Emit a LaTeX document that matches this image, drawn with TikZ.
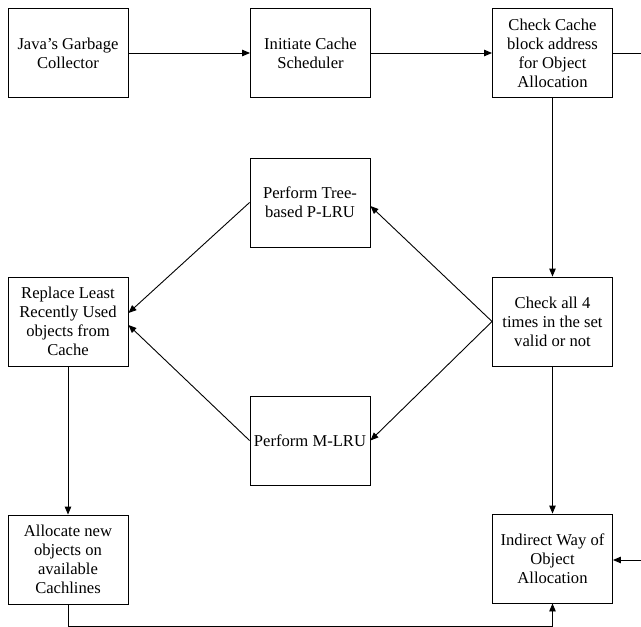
\documentclass[tikz,border=0pt]{standalone}
\usepackage{fontspec}
\setmainfont{Liberation Serif}
\usetikzlibrary{arrows.meta}
\begin{document}
\begin{tikzpicture}[x=1pt,y=-1pt,
  box/.style={draw, line width=0.9pt, minimum width=120pt, minimum height=89pt,
    inner sep=2pt, align=center, font=\fontsize{16.6}{19}\selectfont},
  flow/.style={line width=0.9pt, -{Triangle[length=8pt,width=6.5pt]}},
  wire/.style={line width=0.9pt}]
  \useasboundingbox (0,0) rectangle (641,627);

  % top row
  \node[box] (java)  at (68,53)    {Java’s Garbage\\Collector};
  \node[box] (init)  at (310.5,53) {Initiate Cache\\Scheduler};
  \node[box] (chk)   at (552.5,53) {Check Cache\\block address\\for Object\\Allocation};

  % middle part
  \node[box] (tree)  at (310,202.5)  {Perform Tree-\\based P-LRU};
  \node[box] (repl)  at (68,321.5)   {Replace Least\\Recently Used\\objects from\\Cache};
  \node[box] (all4)  at (552.5,321.5){Check all 4\\times in the set\\valid or not};
  \node[box] (mlru)  at (310,440.5)  {Perform M-LRU};

  % bottom row
  \node[box] (alloc) at (68,559.5)   {Allocate new\\objects on\\available\\Cachlines};
  \node[box] (indir) at (552.5,558.5){Indirect Way of\\Object\\Allocation};

  % free ends at the right border
  \coordinate (outR) at (641,53);
  \coordinate (inR)  at (641,560);
  \coordinate (lowL) at (68,626);
  \coordinate (lowR) at (552.5,626);

  % connectors
  \draw[flow] (java) -- (init);
  \draw[flow] (init) -- (chk);
  \draw[wire] (chk.east) -- (outR);
  \draw[flow] (chk) -- (all4);
  \draw[flow] (all4.west) -- ([yshift=-3.5pt]tree.east);
  \draw[flow] (all4.west) -- (mlru.east);
  \draw[flow] (tree.west) -- ([yshift=8.5pt]repl.east);
  \draw[flow] (mlru.west) -- ([yshift=-3.5pt]repl.east);
  \draw[flow] (repl) -- (alloc);
  \draw[flow] (all4) -- (indir);
  \draw[flow] (inR) -- (inR -| indir.east);
  \draw[flow] (alloc.south) -- (lowL) -- (lowR) -- (indir.south);
\end{tikzpicture}
\end{document}
